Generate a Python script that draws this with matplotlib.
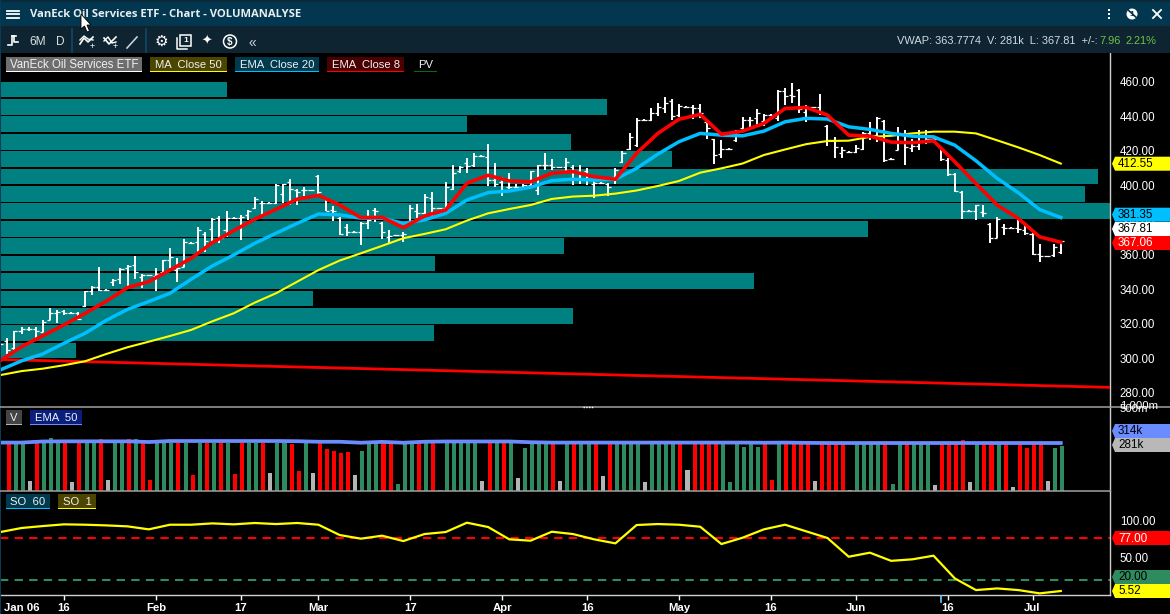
import matplotlib
matplotlib.use("Agg")
import matplotlib.pyplot as plt
from matplotlib.patches import Polygon, Rectangle

# ---------- data ----------
highs = [309,311.6,316,318,318,318,322,329,328,328,327,327,339,342,352.6,340,346,352,354,359,
         349,348.4,352,357,364,358,369,367,375.7,373,381,382,385,381.5,383,386,393,391,390.4,400.8,
         401,403.5,398,399,397.4,406,393.5,388,381.5,377.5,373.6,379,386,387,379,374,371.4,373,388.6,389,
         395,396,387,402,411.8,411,415.6,418.5,417.4,424,412.7,405,407,401,401,408.5,412,418.5,415,410.8,
         416,412,411.8,410,402.7,402,401.5,410,420,430,438.7,438.2,444.5,447.8,450.9,449.7,447,445.8,446.4,447,
         437.8,427,426,421.4,432,439.2,439.6,443.9,441.2,441,455,456,459.3,455.4,446.4,445.4,452.7,434.8,427.7,421.9,
         419.7,423.2,431,436.7,439.6,437.7,415.5,433.8,431.9,427,431.9,431.9,427.4,422.3,415.5,406.9,396.8,385.7,388.9,388.6,
         378,381.4,377.6,376,379.9,377,372.2,366,359.4,366,368]
lows = [306,302.5,305,314,316,310,315,322,320.5,325,325.5,322,329.5,336.6,339,339,342,343,341,346,
        340.5,347.6,338.7,349,352,344,352.6,366,361.7,361.7,368,366.5,370,380.7,368.4,380,386.5,383,389.6,389,
        390,388.5,388.6,394,396.6,394,385,379.6,371.3,370.7,372.6,365.5,375,379,368.8,366,370.6,367.4,377,381,
        383.4,382,386.3,385.8,397,407,407,410.8,416.6,399.6,399,394,397.7,398,397,399,394.4,409,409,410,
        407,400,401,400,392.5,401,394,401,412.7,420.4,422.4,437.4,437.4,440,442,438,439.7,445,438.4,438.7,
        426.6,412.3,416,420.6,425.2,431.9,431.9,434.8,434.2,440,437.3,446.4,447.3,441.9,436.7,444.6,440.6,422.7,416,416,
        418.9,418.4,420.4,426,425,413.6,414.6,420.4,411.7,419.4,420.4,423.8,426.6,414.2,405.3,396.3,380.3,384.9,379.9,381.4,
        366.8,369.3,371.2,375.2,372.2,371.2,359.6,355.8,358.6,358.7,360.2]
opens = [308,310,306,316,317,317,315,322,326,327.5,326,326,330,339,341.4,339.5,344,346,352,354,
         347,348,347.6,350,357,351,353,366.7,367,372,374.6,381,374,381,381,383,387,390,390,390,
         395,402,397,397,397,405.6,392.5,386,381,376,373,373,378,385.8,378,370,371,371,378,385,
         384,392.5,386.7,386.7,397.7,408,412.7,411.8,417,416.6,403,402,399,399,399,400,397,411.8,411.8,410.4,
         410.4,410.8,408,408,401,401.5,401,405,413.7,421,423.3,437.8,438,441.6,444.5,449,440.7,445.4,445.5,444.5,
         436.8,426.6,418,421,426,432.9,437.7,438.7,437.3,440.5,438.7,454.6,452,455,442.5,445,445,434.2,426,418.8,
         419.3,419.3,420.7,430,429,437.3,415,420.4,429,421.3,423,429,427,421.9,414.6,406.5,396.4,385.3,385.3,384.7,
         377.6,369.3,376,375.6,375.6,374.1,371.8,360,359,359.5,361.6]
closes = [308,305,316,317,317,315.5,321,326,327,326,326,322.5,339,341,339.5,339.5,345,351.5,353.4,350,
          348.4,348,349,357,358.4,352,367,366.7,374,368,380.4,369.4,381,381,381.5,385,392,390,390,400,
          400.6,398,396,397,397,396,385,385,372,373,373,378.4,380,385,373,370.7,371,372,386.7,384,
          393.5,386.7,386.7,399,407,410.4,411,417,417,403,400.6,397,399,399,400,408,411.8,411.8,410.4,410.4,
          413.7,408,407,406,401.5,401.5,399,409,418.5,428,437.8,437.8,441.6,445.5,447.4,440,445.9,445.4,444.5,441.6,
          433,417.5,420.8,421,431,437.7,437.7,441.9,440.6,440.5,454.6,451.6,451.6,443.9,445,445,442.5,426,421.9,420.4,
          419.3,421.3,430,429,438.7,414.6,415,430.4,422.3,422.7,429,427,427,415,406.5,396.8,385.3,385.3,388.6,384.1,
          369.3,380.8,375.6,375.6,375,372.2,360,359,359,364.5,367.81]

line_bars = list(range(0, 151, 3))
ema8 = [298.6,306.7,313,319.3,326,333,340.9,344.3,351,357.8,366.9,373.8,380.4,386.1,392,394.2,388.6,381.3,381.5,375.5,
        382.3,385.8,401.2,405.8,402.5,402,407,407.9,405,403.5,418.5,430,438.2,441,429.5,431.3,435.8,444.4,445,440.6,
        429,428.4,425,424.6,425.7,413.6,401,388.6,380.8,370.2,367.06]
ema20 = [293.3,298.5,302.5,308.7,314.5,322,328.3,332.8,337.6,345.7,353.4,359.7,366.5,372.3,378,383.4,382.9,381,381,378,
         380,383.8,391.5,395.8,396.7,398.9,402.7,403.5,403,403.5,409.8,418,425.2,430,429,428.6,431.3,436.7,438.7,438.3,
         433.8,432.3,430,428.4,428,423.2,414.2,404,395.7,386,381.35]
ma50 = [290.3,292.6,294,296,298.3,302.5,306.4,309.6,312.9,316.4,321.4,326,332.2,337.6,344.3,351,356.5,360.7,365,369.4,
        371.9,374.6,379.6,383.8,386.3,388.6,392.1,393.5,394,395.2,397,399.6,402.5,407.3,409.8,412.6,417.5,420.7,423.8,425.6,
        425.8,428,428.6,430,431,431,430,426,421.9,417.5,412.55]
so1 = [84.6,90,92.6,94.9,94.4,93.5,92.2,88.2,94.4,94.4,96.2,94.9,96.7,95.3,96.7,94.4,80.6,75.7,79.7,72.5,
       81.9,84.6,97.1,91.3,74.8,73,85,81.9,74.8,69.4,94,95.3,94.4,91.7,68.5,77,88.2,94.4,85.5,76.6,
       51.5,56.9,46,48,52.9,22.5,6.8,9,6.8,2.4,5.52]
vol_ema = [320,320,336,338,338,338,338,328,343,343,343,343,343,343,340,332,332,318,330,318,
           332,336,336,336,336,325,320,320,320,320,320,320,320,320,320,320,318,320,316,314,
           314,314,314,314,314,314,314,314,314,314,314]
trend_bars = [0, 157]
trend_price = [299.3, 283.2]

profile_levels = [455.4,445.3,435.3,425.2,415.1,405.1,395,385,374.9,364.8,354.8,344.7,334.6,324.6,314.5,304.5]
profile_volume = [227,607,467,571,672,1098,1085,1115,868,564,435,754,313,573,434,76]

volumes = [310,310,345,59,310,310,392,310,310,57,310,358,310,380,62,310,310,380,380,310,
           62,310,310,310,310,310,76,310,310,310,310,310,80,310,310,310,310,84,310,310,
           300,91,310,84,358,245,223,206,212,76,223,310,310,310,345,51,310,310,310,310,
           310,39,358,310,310,310,310,59,310,358,310,310,68,255,310,310,310,310,59,310,
           310,310,310,310,73,310,310,310,310,310,57,310,310,310,345,310,94,310,310,310,
           345,310,57,310,265,310,265,310,62,325,310,310,310,310,59,310,310,310,310,39,
           310,310,310,310,310,51,310,310,310,310,310,48,310,330,310,355,55,310,310,310,
           310,310,45,310,255,330,310,59,255,281]
vol_colors = ("RGGSRGGGRS" "RGGRSGGRGR" "RGGGRGRGRG" "RGRRGGRSGG" "RRGSRRRRRS"
              "GGGRRGGGRG" "RGGGGGGSRG" "RGSGGGGRSG" "RGGRSRGGGG" "SGGGGRSRRR"
              "RGGGGGGRRG" "RRRRSRRRRS" "GGGGRGGRGG" "GSRRRRSGRR" "GRSRRRRSGG")
tick_bars = [3,9,22,34,45,58,71,83,96,109,121,134,146]
tick_labels = ["Jan 06","16","Feb","17","Mar","17","Apr","16","May","16","Jun","16","Jul"]
price_ticks = list(range(280, 461, 20))
so_ticks = [50, 100]

# ---------- helpers ----------
W, H = 1170, 614
plt.rcParams['font.family'] = ['Liberation Sans', 'DejaVu Sans']
fig = plt.figure(figsize=(W/100, H/100), dpi=100, facecolor='black')

def rect(x0, y0, x1, y1):
    return [x0/W, 1-y1/H, (x1-x0)/W, (y1-y0)/H]

BAR0, BARSTEP = 0.3, 7.07
xlim = ((0-BAR0)/BARSTEP, (1110-BAR0)/BARSTEP)

TEAL, CYAN, YEL, RED, GRN, GRY, BLU = '#008080', '#00bfff', '#ffff00', '#ff0000', '#2e8b5f', '#b4b4b4', '#6a8cff'
SEP = '#a0a0a0'

def style(ax):
    ax.set_facecolor('none')
    for s in ['top', 'left', 'bottom']:
        ax.spines[s].set_visible(False)
    ax.spines['right'].set_color('#d0d0d0')
    ax.spines['right'].set_linewidth(1.0)
    ax.yaxis.tick_right()
    ax.tick_params(axis='y', length=0, pad=7, labelsize=8.3, labelcolor='white')
    ax.tick_params(axis='x', length=0, labelbottom=False)
    ax.set_xlim(*xlim)

plim = (460-(406.5-81.5)/1.73, 460+(81.5-53)/1.73)

# volume profile, behind the price axes
axp = fig.add_axes(rect(0, 53, 1110, 406.5), facecolor='black')
axp.barh(profile_levels, profile_volume, height=9.05, color=TEAL)
axp.set_xlim(0, 1110)
axp.set_ylim(*plim)
axp.axis('off')

# price panel
ax = fig.add_axes(rect(0, 53, 1110, 406.5))
style(ax)
ax.set_ylim(*plim)
bars = list(range(len(highs)))
ax.vlines(bars, lows, highs, color='white', lw=1.4, zorder=3)
ax.hlines(opens, [b-0.43 for b in bars], bars, color='white', lw=0.9, zorder=3)
ax.hlines(closes, bars, [b+0.43 for b in bars], color='white', lw=0.9, zorder=3)
ax.plot(trend_bars, trend_price, color=RED, lw=2.0, zorder=4, solid_capstyle='butt')
ax.plot(line_bars, ma50, color=YEL, lw=1.5, zorder=5, solid_joinstyle='round')
ax.plot(line_bars, ema20, color=CYAN, lw=2.5, zorder=6, solid_joinstyle='round')
ax.plot(line_bars, ema8, color=RED, lw=2.6, zorder=7, solid_joinstyle='round')
ax.set_yticks(price_ticks)
ax.set_yticklabels([f"{p:.2f}" for p in price_ticks])

# volume panel
axv = fig.add_axes(rect(0, 407, 1110, 491))
style(axv)
axv.set_yscale('log')
axv.minorticks_off()
decade = 52.0
lo = 314*10**(-(491-443)/decade)
hi = 314*10**((443-407)/decade)
axv.set_ylim(lo, hi)
cmap = {'R': RED, 'G': GRN, 'S': GRY}
vbars = list(range(1, len(volumes)+1))
axv.bar([b+0.2 for b in vbars], [v-lo for v in volumes], width=0.57, bottom=lo,
        color=[cmap[c] for c in vol_colors], zorder=2)
axv.plot(line_bars, vol_ema, color=BLU, lw=2.7, zorder=3)
axv.set_yticks([])
axv.tick_params(axis='y', which='both', length=0, labelright=False)

# oscillator panel
axs = fig.add_axes(rect(0, 491, 1110, 595))
style(axs)
axs.set_ylim(0.2, 139.6)
axs.axhline(77, color=RED, lw=1.5, ls=(0, (4, 3)), zorder=2)
axs.axhline(20, color=GRN, lw=1.5, ls=(0, (4, 3)), zorder=2)
axs.plot(line_bars, so1, color=YEL, lw=1.6, zorder=3, solid_joinstyle='round')
axs.set_yticks(so_ticks)
axs.set_yticklabels([f"{v:.2f}" for v in so_ticks])
axs.spines['bottom'].set_visible(True)
axs.spines['bottom'].set_color('#d0d0d0')
axs.spines['bottom'].set_linewidth(1.0)
axs.set_xticks(tick_bars)
axs.set_xticklabels(tick_labels, fontsize=8.2, color='white', fontweight='bold')
axs.tick_params(axis='x', length=3.4, width=1, color='white', pad=2.2, labelbottom=True)
axs.xaxis.get_major_ticks()[0].tick1line.set_visible(False)

# ---------- chrome overlay in pixel coordinates ----------
o = fig.add_axes([0, 0, 1, 1], facecolor='none')
o.set_xlim(0, W); o.set_ylim(H, 0); o.axis('off')
o.set_zorder(10)

o.add_patch(Rectangle((0, 0), W, 26, color='#03374f', lw=0))
o.add_patch(Rectangle((0, 0), W, 2, color='#0a2a3a', lw=0))
o.add_patch(Rectangle((0, 26), W, 27, color='#0e2430', lw=0))
o.add_patch(Rectangle((0, 0), 1, H, color='#0a3a55', lw=0))
o.plot([0, W], [406.7, 406.7], color=SEP, lw=1.1)
o.plot([0, 1110], [490.8, 490.8], color=SEP, lw=1.1)
o.plot([583, 594], [406.7, 406.7], color='white', lw=1.0, ls=(0, (1, 1)))

# title bar
for yy in (10.5, 14, 17.5):
    o.plot([7, 19], [yy, yy], color='white', lw=1.3)
o.text(30, 14.6, "VanEck Oil Services ETF - Chart - VOLUMANALYSE", color='#e8eef2', fontsize=8.15,
       fontweight='bold', family=['Open Sans', 'DejaVu Sans'], va='center')
for yy in (10, 14, 18):
    o.add_patch(Rectangle((1108, yy-1), 2.2, 2.2, color='white', lw=0))
o.add_patch(plt.Circle((1132, 14), 5.5, color='white', lw=0))
o.plot([1126, 1139], [8, 20], color='#03374f', lw=1.2)
o.text(1132, 14, "1", color='#03374f', fontsize=6, ha='center', va='center', fontweight='bold')
o.plot([1153, 1161], [10, 18], color='white', lw=1.3)
o.plot([1153, 1161], [18, 10], color='white', lw=1.3)

# mouse pointer
o.add_patch(Polygon([(81, 14), (81, 29), (84.5, 26), (87, 32), (89.5, 31), (87, 25), (91, 25)],
                    closed=True, facecolor='white', edgecolor='black', lw=0.6, zorder=20))

# tool bar
o.plot([8, 12, 12], [45, 45, 36], color='white', lw=1.2)
o.plot([12, 16], [36, 36], color='white', lw=1.2)
o.plot([14, 14, 18], [36, 42, 42], color='white', lw=1.2)
o.text(29, 42, "6M", color='#d8e0e4', fontsize=8.6, va='center')
o.text(56, 42, "D", color='#d8e0e4', fontsize=8.6, va='center')
for xx in (72, 146):
    o.plot([xx, xx], [29, 52], color='#0c4a6e', lw=1.2)
o.plot([80, 84, 88, 93], [44, 38, 42, 37], color='white', lw=1.2)
o.plot([80, 84, 88, 93], [40, 36, 39, 40], color='white', lw=1.0)
o.text(92, 46, "+", color='white', fontsize=6.5, ha='center', va='center')
o.plot([104, 109, 112, 116], [38, 44, 41, 37], color='white', lw=1.2)
o.plot([104, 108, 112, 116], [41, 37, 43, 42], color='white', lw=1.0)
o.text(115, 46, "+", color='white', fontsize=6.5, ha='center', va='center')
o.plot([127, 137], [48, 37], color='#c8d0d4', lw=1.2)
o.text(161, 41.5, "\u2699", color='white', fontsize=11, ha='center', va='center', family=['DejaVu Sans'])
o.add_patch(Rectangle((180, 35), 11, 11, fill=False, edgecolor='white', lw=1.1))
o.plot([177, 177, 187], [38, 49, 49], color='white', lw=1.1)
o.text(185.5, 40.5, "1", color='white', fontsize=6, ha='center', va='center', fontweight='bold')
o.text(207, 41.5, "\u2726", color='white', fontsize=9, ha='center', va='center', family=['DejaVu Sans'])
o.add_patch(plt.Circle((230, 41.5), 6.5, fill=False, edgecolor='white', lw=1.1))
o.text(230, 41.5, "$", color='white', fontsize=7, ha='center', va='center', fontweight='bold')
o.text(252, 43, "\u00ab", color='#c8d0d4', fontsize=10, ha='center', va='center')

# status text
o.text(897, 41, "VWAP: 363.7774  V: 281k  L: 367.81  +/-:", color='#d0dce4', fontsize=7.9, va='center')
o.text(1099, 41, "7.96", color='#6fc24a', fontsize=7.9, va='center')
o.text(1126, 41, "2.21%", color='#6fc24a', fontsize=7.9, va='center')

# legend chips
def chip(x0, x1, y0, label, bg, under, size=8.1):
    o.add_patch(Rectangle((x0, y0), x1-x0, 13.5, color=bg, lw=0))
    o.add_patch(Rectangle((x0, y0+13.5), x1-x0, 1.6, color=under, lw=0))
    o.text((x0+x1)/2, y0+7.8, label, color='#f0f0f0', fontsize=size, ha='center', va='center')

chip(6, 142, 57, "VanEck Oil Services ETF", '#6e6e6e', 'white', 8.3)
chip(150, 227, 57, "MA  Close 50", '#4b4500', YEL)
chip(235, 319, 57, "EMA  Close 20", '#003a4f', CYAN)
chip(327, 404, 57, "EMA  Close 8", '#4a0000', RED)
chip(414, 437, 57, "PV", 'black', '#0a6a1a')
chip(6, 22, 410, "V", '#444444', GRY)
chip(30, 82, 410, "EMA  50", '#0a1f7d', BLU)
chip(6, 50, 494, "SO  60", '#003a4f', CYAN)
chip(58, 96, 494, "SO  1", '#4b4500', YEL)

# right hand value tags
def tag(y, label, bg, fg):
    o.add_patch(Polygon([(1112, y), (1115, y-7), (1170, y-7), (1170, y+7), (1115, y+7)],
                        closed=True, color=bg, lw=0, zorder=6))
    o.text(1118, y+0.5, label, color=fg, fontsize=8.4, va='center', zorder=7)

tag(163.7, "412.55", YEL, 'black')
tag(214.7, "381.35", '#00bfff', 'black')
tag(229, "367.81", 'white', 'black')
tag(243, "367.06", RED, 'white')
tag(431, "314k", BLU, 'black')
tag(445, "281k", '#b8b8b8', 'black')
tag(538, "77.00", RED, 'white')
tag(577, "20.00", GRN, 'black')
tag(591, "5.52", YEL, 'black')

o.text(1120, 405.5, "1,000m", color='white', fontsize=8.2, va='center')
o.text(1120, 409.5, "500m", color='white', fontsize=8.2, va='center')
o.plot([941, 941], [596, 602], color='#6ec6ff', lw=1.2)

fig.savefig("out.png", dpi=100, facecolor='black')
